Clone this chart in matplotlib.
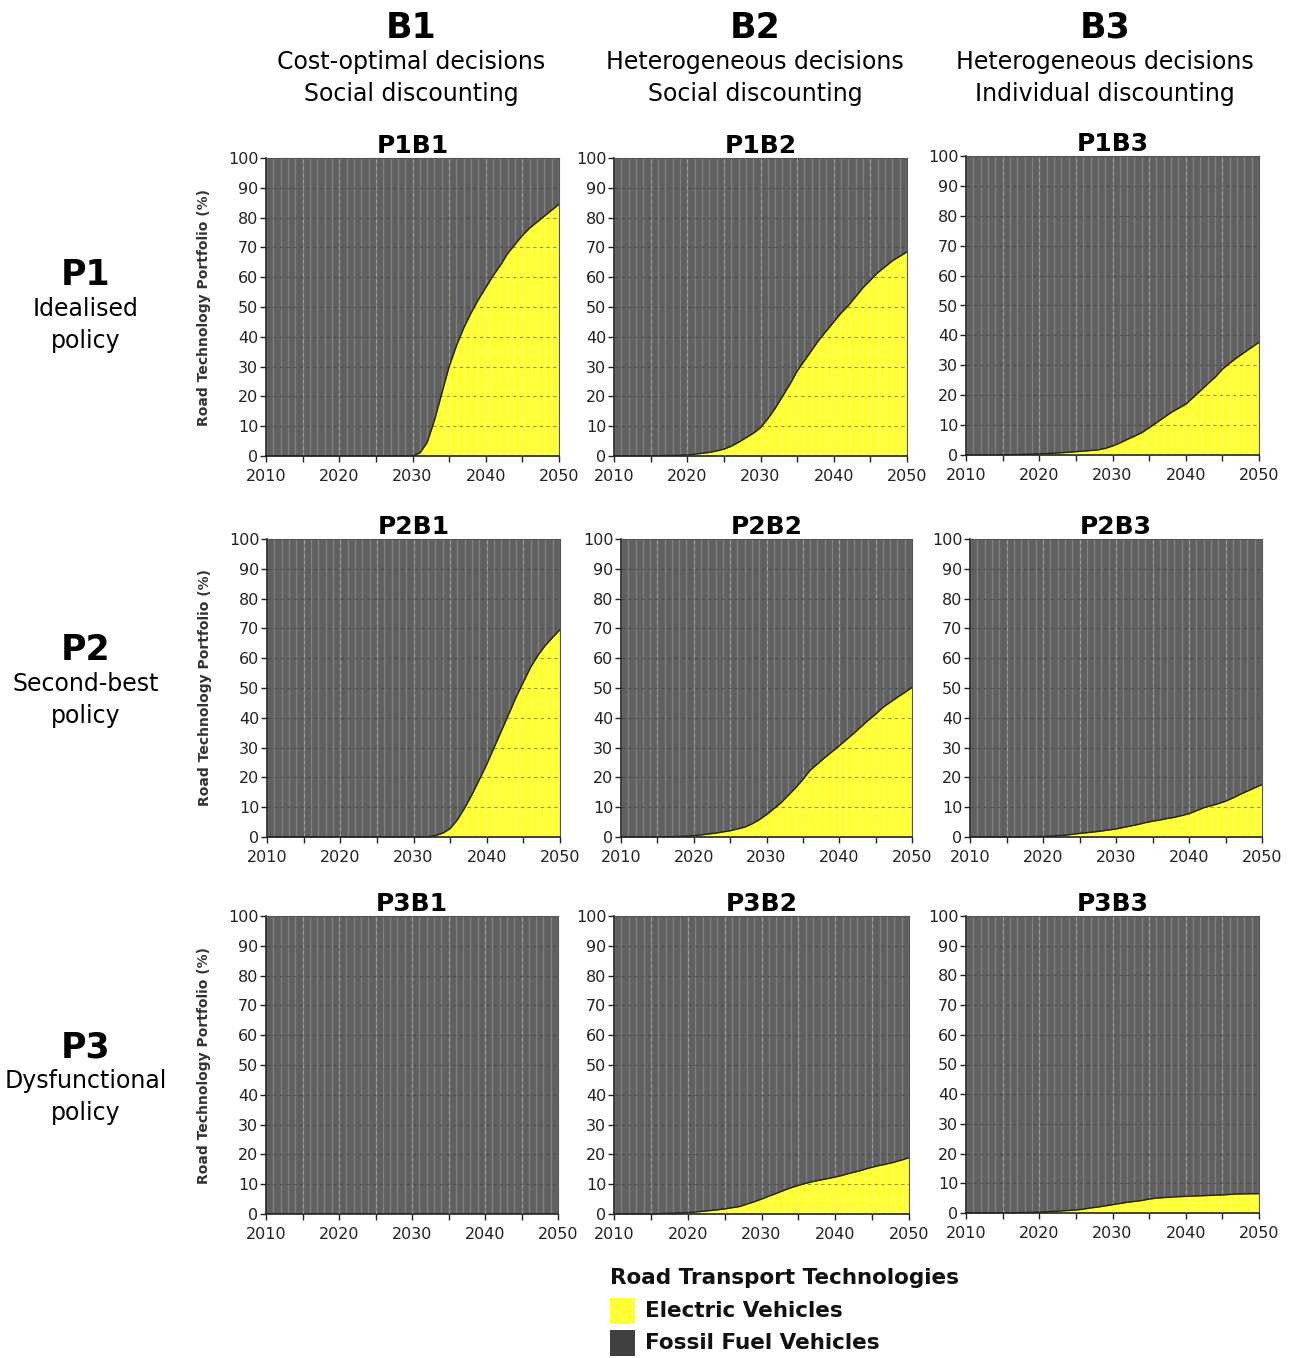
import matplotlib
matplotlib.use("Agg")
import matplotlib.pyplot as plt
import numpy as np
from matplotlib.patches import Rectangle

plt.rcParams['font.family'] = ['DejaVu Sans']

years = list(range(2010, 2051))

ev_P1B1 = [0]*21 + [1, 4.5, 12, 21, 30, 37, 43, 48, 52.5, 56.5, 60.5, 64, 68, 71, 74,
                    76.5, 78.5, 80.5, 82.5, 84.5]
ev_P1B2 = [0]*5 + [0.05, 0.1, 0.15, 0.2, 0.25, 0.35, 0.6, 0.9, 1.2, 1.7, 2.3, 3.3, 4.6, 6.1,
                   7.6, 9.5, 12.5, 16, 20, 24, 28.5, 32, 35.5, 39, 42, 45, 48, 50.5, 53.5,
                   56.5, 59, 61.5, 63.5, 65.5, 67, 68.5]
ev_P1B3 = [0]*5 + [0.05, 0.1, 0.15, 0.2, 0.3, 0.4, 0.5, 0.6, 0.75, 0.9, 1.1, 1.3, 1.5, 1.7,
                   2.2, 3, 4, 5.2, 6.3, 7.5, 9.1, 10.8, 12.5, 14.2, 15.6, 17, 19.2, 21.5,
                   23.8, 26, 28.7, 30.7, 32.6, 34.3, 36, 37.7]
ev_P2B1 = [0]*22 + [0.1, 0.5, 1.3, 2.8, 5.8, 9.8, 14.3, 19.3, 24.4, 30, 35.6, 41.2, 46.9,
                    52, 57, 61, 64.3, 67, 69.6]
ev_P2B2 = [0]*6 + [0.05, 0.1, 0.2, 0.3, 0.45, 0.7, 1.0, 1.3, 1.7, 2.1, 2.7, 3.3, 4.4, 5.8,
                   7.5, 9.5, 11.5, 14, 16.5, 19.3, 22.4, 24.5, 26.6, 28.6, 30.6, 32.7, 34.8,
                   37, 39.2, 41.2, 43.5, 45.2, 46.9, 48.5, 50.2]
ev_P2B3 = [0]*8 + [0.1, 0.15, 0.2, 0.3, 0.45, 0.6, 0.9, 1.2, 1.45, 1.7, 2.0, 2.35, 2.7, 3.2,
                   3.7, 4.2, 4.8, 5.3, 5.7, 6.2, 6.6, 7.2, 7.8, 8.8, 9.8, 10.5, 11.2, 12,
                   13.1, 14.3, 15.4, 16.5, 17.6]
ev_P3B1 = [0]*41
ev_P3B2 = [0]*6 + [0.1, 0.2, 0.3, 0.4, 0.45, 0.65, 0.9, 1.15, 1.4, 1.7, 2.1, 2.5, 3.3, 4.1,
                   5, 6, 6.9, 7.9, 8.8, 9.6, 10.3, 10.9, 11.4, 11.9, 12.4, 13, 13.7, 14.3,
                   15, 15.7, 16.3, 16.8, 17.4, 18.1, 18.9]
ev_P3B3 = [0]*7 + [0.1, 0.15, 0.2, 0.3, 0.4, 0.55, 0.7, 0.85, 1.0, 1.3, 1.7, 2.0, 2.4, 2.8,
                   3.2, 3.6, 3.9, 4.2, 4.7, 5.0, 5.2, 5.35, 5.5, 5.6, 5.7, 5.8, 5.9, 6.0,
                   6.1, 6.25, 6.4, 6.45, 6.5, 6.5]

panel_names = [["P1B1", "P1B2", "P1B3"], ["P2B1", "P2B2", "P2B3"], ["P3B1", "P3B2", "P3B3"]]
panel_data = [[ev_P1B1, ev_P1B2, ev_P1B3], [ev_P2B1, ev_P2B2, ev_P2B3], [ev_P3B1, ev_P3B2, ev_P3B3]]

col_heads = ["B1", "B2", "B3"]
col_sub1 = ["Cost-optimal decisions", "Heterogeneous decisions", "Heterogeneous decisions"]
col_sub2 = ["Social discounting", "Social discounting", "Individual discounting"]
row_heads = ["P1", "P2", "P3"]
row_sub1 = ["Idealised", "Second-best", "Dysfunctional"]
row_sub2 = ["policy", "policy", "policy"]
legend_title = "Road Transport Technologies"
legend_labels = ["Electric Vehicles", "Fossil Fuel Vehicles"]
ylabel = "Road Technology Portfolio (%)"
xticks = [2010, 2020, 2030, 2040, 2050]
yticks = list(range(0, 101, 10))

W, H = 1290, 1358
fig = plt.figure(figsize=(W / 100, H / 100), dpi=100)

YELLOW = "#ffff33"
GREY = "#606060"
GREY_LEG = "#404040"

# pixel boxes (left, right, top, bottom)
boxes = [
    [(266, 559, 158, 456), (614, 907, 158, 456), (966, 1259, 156, 455)],
    [(267, 560, 539, 837), (621, 912, 539, 837), (970, 1262, 539, 837)],
    [(266, 558, 916, 1214), (614, 909, 916, 1214), (966, 1259, 916, 1213)],
]

for r in range(3):
    for c in range(3):
        l, rr, t, b = boxes[r][c]
        ax = fig.add_axes([l / W, 1 - b / H, (rr - l) / W, (b - t) / H])
        ev = np.array(panel_data[r][c], dtype=float)
        yrs = np.array(years)
        ax.fill_between(yrs, 0, ev, color=YELLOW, lw=0, zorder=1)
        ax.fill_between(yrs, ev, 100, color=GREY, lw=0, zorder=1)
        ax.vlines(yrs, 0, 100, color="white", alpha=0.2, lw=1.0, zorder=2)
        for xv in range(2015, 2051, 5):
            ax.axvline(xv, color="#d8d8d8", alpha=0.4, lw=0.8, ls=(0, (3, 3)), zorder=3)
        for yv in range(10, 100, 10):
            ax.axhline(yv, color="#3a3a3a", alpha=0.55, lw=0.8, ls=(0, (3, 3)), zorder=3)
        ax.plot(yrs, ev, color="#222222", lw=1.0, zorder=4)
        ax.set_xlim(2010, 2050)
        ax.set_ylim(0, 100)
        ax.set_xticks(xticks)
        ax.set_xticks(list(range(2015, 2050, 10)), minor=True)
        ax.set_yticks(yticks)
        ax.tick_params(axis="both", which="both", direction="out", length=4, width=1,
                       colors="#222222", labelsize=11.5)
        ax.tick_params(axis="x", which="both", pad=5.5)
        ax.tick_params(axis="y", which="both", pad=1.5)
        for sp in ["left", "bottom"]:
            ax.spines[sp].set_color("#222222")
            ax.spines[sp].set_linewidth(1.2)
        for sp in ["top", "right"]:
            ax.spines[sp].set_color("#555555")
            ax.spines[sp].set_linewidth(0.8)
        ax.set_title(panel_names[r][c], fontsize=18, fontweight="bold", pad=3)
        if c == 0:
            ax.set_ylabel(ylabel, fontsize=10, fontweight="bold", color="#333333", labelpad=12)

col_x = [411, 755, 1105]
for i in range(3):
    fig.text(col_x[i] / W, 1 - 28 / H, col_heads[i], fontsize=25, fontweight="bold",
             ha="center", va="center")
    fig.text(col_x[i] / W, 1 - 62 / H, col_sub1[i], fontsize=17, ha="center", va="center")
    fig.text(col_x[i] / W, 1 - 94 / H, col_sub2[i], fontsize=17, ha="center", va="center")

row_y = [275, 650, 1047]
for i in range(3):
    fig.text(86 / W, 1 - row_y[i] / H, row_heads[i], fontsize=25, fontweight="bold",
             ha="center", va="center")
    fig.text(86 / W, 1 - (row_y[i] + 34) / H, row_sub1[i], fontsize=17, ha="center", va="center")
    fig.text(86 / W, 1 - (row_y[i] + 66) / H, row_sub2[i], fontsize=17, ha="center", va="center")

# legend
fig.text(610 / W, 1 - 1278 / H, legend_title, fontsize=15.5, fontweight="bold",
         ha="left", va="center", color="#111111")
leg_cols = [YELLOW, GREY_LEG]
leg_y = [1311, 1343]
for i in range(2):
    fig.patches.append(Rectangle((610 / W, 1 - (leg_y[i] + 13) / H), 25 / W, 26 / H,
                                 transform=fig.transFigure, facecolor=leg_cols[i],
                                 edgecolor="none"))
    fig.text(645 / W, 1 - leg_y[i] / H, legend_labels[i], fontsize=15.5, fontweight="bold",
             ha="left", va="center", color="#111111")

fig.savefig("out.png", dpi=100)
